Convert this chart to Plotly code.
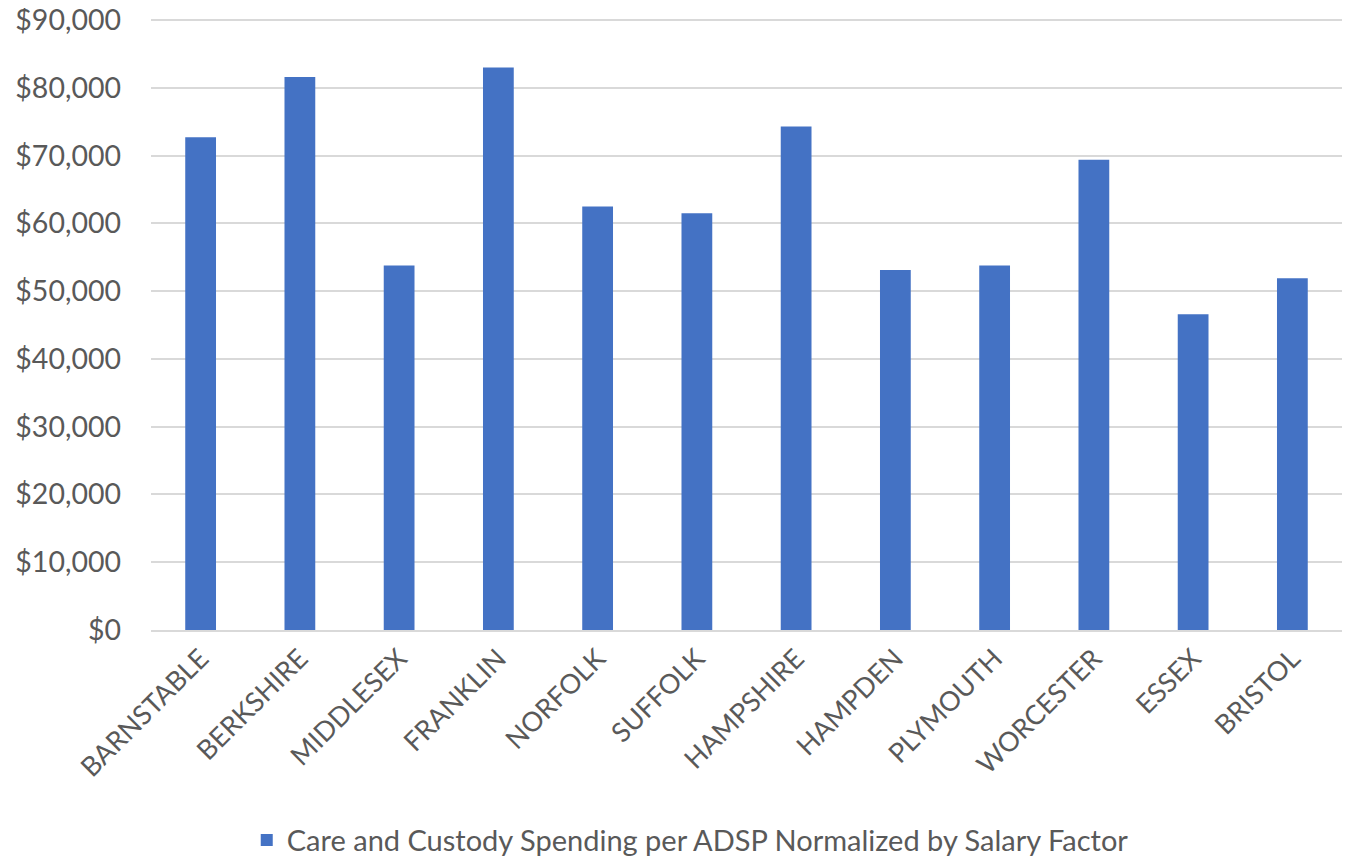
import plotly.graph_objects as go

counties = ["BARNSTABLE", "BERKSHIRE", "MIDDLESEX", "FRANKLIN", "NORFOLK", "SUFFOLK",
            "HAMPSHIRE", "HAMPDEN", "PLYMOUTH", "WORCESTER", "ESSEX", "BRISTOL"]
spending = [72700, 81600, 53800, 83000, 62500, 61500, 74300, 53100, 53800, 69400, 46600, 51900]
series_name = "Care and Custody Spending per ADSP Normalized by Salary Factor"
y_ticks = list(range(0, 90001, 10000))
y_tick_labels = ["$" + format(v, ",") for v in y_ticks]

FONT = "Lato"
TXT = "#595959"

fig = go.Figure()
fig.add_trace(go.Bar(x=counties, y=spending, name=series_name,
                     marker=dict(color="#4472C4", line=dict(width=0)),
                     showlegend=True))

fig.update_layout(
    width=1343, height=850,
    margin=dict(l=143, r=9, t=10, b=228, autoexpand=False),
    paper_bgcolor="white", plot_bgcolor="white",
    font=dict(family=FONT, size=27, color=TXT),
    bargap=0.69,
    showlegend=True,
    legend=dict(orientation="h", xref="container", yref="container",
                x=0.508, xanchor="center", y=0.021, yanchor="middle",
                font=dict(family=FONT, size=29, color=TXT),
                itemsizing="constant"),
    xaxis=dict(tickangle=-45, tickfont=dict(family=FONT, size=27, color=TXT),
               showgrid=False, showline=True, linecolor="#D9D9D9", linewidth=2,
               ticks="", automargin=False),
    yaxis=dict(range=[0, 90300], tickvals=y_ticks, ticktext=y_tick_labels,
               tickfont=dict(family=FONT, size=28.5, color=TXT),
               showgrid=True, gridcolor="#D9D9D9", gridwidth=2,
               zeroline=False, showline=False, ticks="", ticklabelstandoff=29,
               ticklabeloverflow="allow", automargin=False),
)

fig.write_html("out.html")
